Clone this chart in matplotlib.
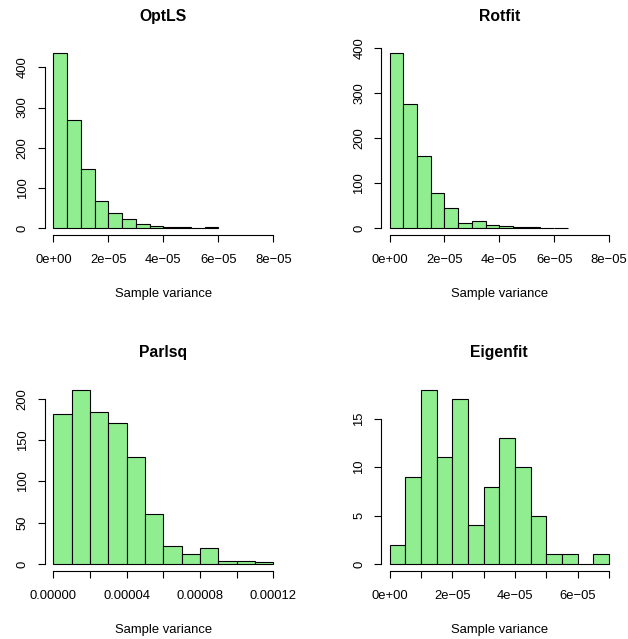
import matplotlib
matplotlib.use('Agg')
import numpy as np
import matplotlib.pyplot as plt

plt.rcParams['font.family'] = ['Liberation Sans', 'DejaVu Sans']

# counts
optls_counts = [435, 268, 148, 67, 38, 22, 10, 6, 2, 2, 0, 2]
rotfit_counts = [389, 277, 161, 78, 44, 12, 16, 8, 6, 2, 2, 0, 1]
parlsq_counts = [181, 211, 184, 171, 130, 60, 22, 12, 20, 4, 4, 3]
eigenfit_counts = [2, 9, 18, 11, 17, 4, 8, 13, 10, 5, 1, 1, 0, 1]

small_bin = 5e-6
parlsq_bin = 1e-5

sci_ticks = [0, 2e-5, 4e-5, 6e-5, 8e-5]
sci_labels = ['0e+00', '2e\u221205', '4e\u221205', '6e\u221205', '8e\u221205']
parlsq_ticks = [0, 2e-5, 4e-5, 6e-5, 8e-5, 1e-4, 1.2e-4]
parlsq_labels = ['0.00000', '', '0.00004', '', '0.00008', '', '0.00012']
eigen_ticks = [0, 1e-5, 2e-5, 3e-5, 4e-5, 5e-5, 6e-5, 7e-5]
eigen_labels = ['0e+00', '', '2e\u221205', '', '4e\u221205', '', '6e\u221205', '']

panels = [
    ('OptLS', optls_counts, small_bin, (0, 8e-5), sci_ticks, sci_labels, [0, 100, 200, 300, 400]),
    ('Rotfit', rotfit_counts, small_bin, (0, 8e-5), sci_ticks, sci_labels, [0, 100, 200, 300, 400]),
    ('Parlsq', parlsq_counts, parlsq_bin, (0, 1.2e-4), parlsq_ticks, parlsq_labels, [0, 50, 100, 150, 200]),
    ('Eigenfit', eigenfit_counts, small_bin, (0, 7e-5), eigen_ticks, eigen_labels, [0, 5, 10, 15]),
]

# plot regions in figure fractions (left, bottom, width, height)
boxes = [
    [0.0709, 0.6318, 0.3783, 0.2959],
    [0.6065, 0.6318, 0.3772, 0.2959],
    [0.0709, 0.1064, 0.3783, 0.2948],
    [0.6065, 0.1064, 0.3772, 0.2948],
]

fig = plt.figure(figsize=(6.28, 6.39), dpi=100)

for (name, counts, width, xr, xt, xl, yt), box in zip(panels, boxes):
    ax = fig.add_axes(box)
    counts = np.array(counts)
    edges = np.arange(len(counts)) * width
    ax.bar(edges, counts, width=width, align='edge', color='#90EE90',
           edgecolor='black', linewidth=0.8)

    dx = (xr[1] - xr[0]) * 0.04
    ymax = counts.max()
    ax.set_xlim(xr[0] - dx, xr[1] + dx)
    ax.set_ylim(-ymax * 0.04, ymax * 1.04)

    ax.set_xticks(xt)
    ax.set_xticklabels(xl)
    ax.set_yticks(yt)
    ax.set_yticklabels([str(v) for v in yt], rotation=90, va='center')

    for s in ['top', 'right']:
        ax.spines[s].set_visible(False)
    ax.spines['left'].set_bounds(yt[0], yt[-1])
    ax.spines['bottom'].set_bounds(xt[0], xt[-1])
    for s in ['left', 'bottom']:
        ax.spines[s].set_linewidth(0.8)
    ax.tick_params(axis='x', length=5, width=0.8, pad=8.5, labelsize=9.4)
    ax.tick_params(axis='y', length=5, width=0.8, pad=6.3, labelsize=9.4)

    ax.set_title(name, fontsize=11.3, fontweight='bold', pad=18.4)
    ax.set_xlabel('Sample variance', fontsize=9.4, labelpad=16)

fig.savefig('out.png', dpi=100)
